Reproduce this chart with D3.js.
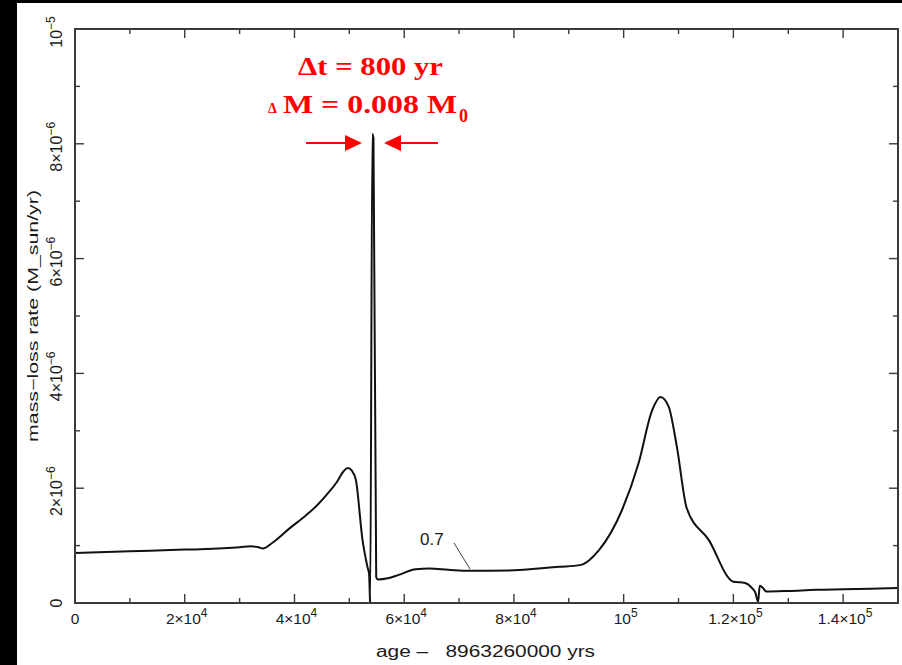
<!DOCTYPE html>
<html>
<head>
<meta charset="utf-8">
<script src="https://cdn.jsdelivr.net/npm/d3@7"></script>
<style>
  body { margin: 0; background: #000; }
  svg { display: block; }
  text { font-family: "Liberation Sans", Arial, sans-serif; }
</style>
</head>
<body>
<script>
// chart values
const ages = [0, 10000, 20000, 30000, 32000, 33500, 34200, 36000, 39100, 42000, 43900, 46000,
  47600, 49000, 49700, 50500, 51200, 52400, 53300, 53600, 53750, 53800, 54200, 54400, 54900,
  55200, 57000, 59000, 62100, 64600, 68000, 71800, 80000, 88200, 92100, 95500, 99700, 102700,
  105200, 106700, 108200, 109700, 111500, 115500, 120000, 122100, 123300, 124000, 124500,
  124800, 125300, 126000, 130000, 135000, 140000, 150000];
const rates = [0.87, 0.90, 0.93, 0.97, 0.99, 0.97, 0.95, 1.05, 1.30, 1.52, 1.68, 1.90,
  2.09, 2.30, 2.35, 2.30, 2.14, 1.10, 0.63, 0.50, 0.10, 0.0, 8.17, 8.10, 0.45,
  0.41, 0.43, 0.49, 0.59, 0.60, 0.58, 0.56, 0.57, 0.63, 0.66, 0.92, 1.62, 2.43,
  3.36, 3.59, 3.42, 2.72, 1.65, 1.10, 0.37, 0.35, 0.27, 0.18, 0.02,
  0.30, 0.27, 0.20, 0.21, 0.23, 0.24, 0.26].map(v => v * 1e-6);

const xMajor = [0, 20000, 40000, 60000, 80000, 100000, 120000, 140000];
const xLabels = [["0", ""], ["2×10", "4"], ["4×10", "4"], ["6×10", "4"], ["8×10", "4"],
  ["10", "5"], ["1.2×10", "5"], ["1.4×10", "5"]];
const yMajor = [0, 2e-6, 4e-6, 6e-6, 8e-6, 1e-5];
const yLabels = [["0", ""], ["2×10", "−6"], ["4×10", "−6"], ["6×10", "−6"], ["8×10", "−6"], ["10", "−5"]];

const W = 902, H = 665;
const margin = {left: 75, top: 29, right: 4, bottom: 62};

const svg = d3.select('body').append('svg')
  .attr('width', W)
  .attr('height', H);

// white paper on black
svg.append('rect').attr('x', 17).attr('y', 3).attr('width', W - 17).attr('height', H - 3).attr('fill', '#fff');

const x = d3.scaleLinear().domain([0, 150000]).range([margin.left, W - margin.right]);
const y = d3.scaleLinear().domain([0, 1e-5]).range([H - margin.bottom, margin.top]);

const frame = '#3a3a3a';
const ink = '#1a1a1a';

// ticks on all four sides, pointing in
const xMinor = d3.range(10000, 150000, 20000);
const yMinor = d3.range(1e-6, 1e-5, 2e-6);
const tickG = svg.append('g').attr('stroke', frame).attr('stroke-width', 1.4);
function xTicks(vals, len) {
  vals.forEach(v => {
    tickG.append('line').attr('x1', x(v)).attr('x2', x(v)).attr('y1', y(0)).attr('y2', y(0) - len);
    tickG.append('line').attr('x1', x(v)).attr('x2', x(v)).attr('y1', y(1e-5)).attr('y2', y(1e-5) + len);
  });
}
function yTicks(vals, len) {
  vals.forEach(v => {
    tickG.append('line').attr('y1', y(v)).attr('y2', y(v)).attr('x1', x(0)).attr('x2', x(0) + len);
    tickG.append('line').attr('y1', y(v)).attr('y2', y(v)).attr('x1', x(150000)).attr('x2', x(150000) - len);
  });
}
xTicks(xMajor, 9); xTicks(xMinor, 5);
yTicks(yMajor, 9); yTicks(yMinor, 5);

// the curve
const line = d3.line()
  .x((d, i) => x(ages[i]))
  .y((d, i) => y(rates[i]))
  .curve(d3.curveMonotoneX);
svg.append('path')
  .datum(rates)
  .attr('d', line)
  .attr('fill', 'none')
  .attr('stroke', '#111')
  .attr('stroke-width', 2)
  .attr('stroke-linejoin', 'round');

// frame
svg.append('rect')
  .attr('x', x(0)).attr('y', y(1e-5))
  .attr('width', x(150000) - x(0)).attr('height', y(0) - y(1e-5))
  .attr('fill', 'none').attr('stroke', frame).attr('stroke-width', 2);

// tick labels
function sciLabel(g, lab, size, supSize, rise) {
  const t = g.append('text').attr('text-anchor', 'middle').attr('font-size', size).attr('fill', ink);
  t.append('tspan').text(lab[0]);
  if (lab[1]) t.append('tspan').attr('dy', -rise).attr('font-size', supSize).text(lab[1]);
  return t;
}
xMajor.forEach((v, i) => {
  const g = svg.append('g').attr('transform', `translate(${x(v) + (i ? 2 : 0)},${y(0) + 21})`);
  sciLabel(g, xLabels[i], 15.5, 12, 7);
});
yMajor.forEach((v, i) => {
  const g = svg.append('g').attr('transform', `translate(${x(0) - 13},${y(v) + (i ? 3 : 0)}) rotate(-90)`);
  sciLabel(g, yLabels[i], 16, 12, 7);
});

// axis titles
svg.append('text')
  .attr('x', 376).attr('y', 657)
  .attr('font-size', 16).attr('fill', ink)
  .attr('textLength', 219).attr('lengthAdjust', 'spacingAndGlyphs')
  .style('white-space', 'pre')
  .text('age –   8963260000 yrs');
svg.append('text')
  .attr('transform', `translate(38,${(y(0) + y(1e-5)) / 2 + 126}) rotate(-90)`)
  .attr('font-size', 14).attr('fill', ink)
  .attr('textLength', 252).attr('lengthAdjust', 'spacingAndGlyphs')
  .text('mass−loss rate (M_sun/yr)');

// "0.7" curve label
svg.append('text').attr('x', 420).attr('y', 545).attr('font-size', 17).attr('fill', ink).text('0.7');
svg.append('line').attr('x1', 454).attr('y1', 543).attr('x2', 470).attr('y2', 569)
  .attr('stroke', '#444').attr('stroke-width', 1);

// red annotation
const red = '#f00';
const serif = '"Liberation Serif", "Times New Roman", serif';
svg.append('text').attr('x', 298).attr('y', 75).attr('font-size', 26)
  .attr('font-weight', 'bold').attr('fill', red).style('font-family', serif)
  .attr('textLength', 145).attr('lengthAdjust', 'spacingAndGlyphs')
  .text('Δt = 800 yr');
svg.append('text').attr('x', 268).attr('y', 113).attr('font-size', 14)
  .attr('font-weight', 'bold').attr('fill', red).style('font-family', serif).text('Δ');
svg.append('text').attr('x', 283).attr('y', 113).attr('font-size', 26)
  .attr('font-weight', 'bold').attr('fill', red).style('font-family', serif)
  .attr('textLength', 174).attr('lengthAdjust', 'spacingAndGlyphs')
  .text('M = 0.008 M');
svg.append('text').attr('x', 459).attr('y', 122).attr('font-size', 18)
  .attr('font-weight', 'bold').attr('fill', red).style('font-family', serif).text('0');

// converging arrows at the spike
function arrow(from, tip) {
  const dir = Math.sign(tip - from);
  svg.append('line').attr('x1', from).attr('y1', 143).attr('x2', tip - dir * 14).attr('y2', 143)
    .attr('stroke', red).attr('stroke-width', 2);
  svg.append('path')
    .attr('d', `M${tip},143 L${tip - dir * 17},135 L${tip - dir * 17},151 Z`)
    .attr('fill', red);
}
arrow(306, 362);
arrow(438, 384);
</script>
</body>
</html>
